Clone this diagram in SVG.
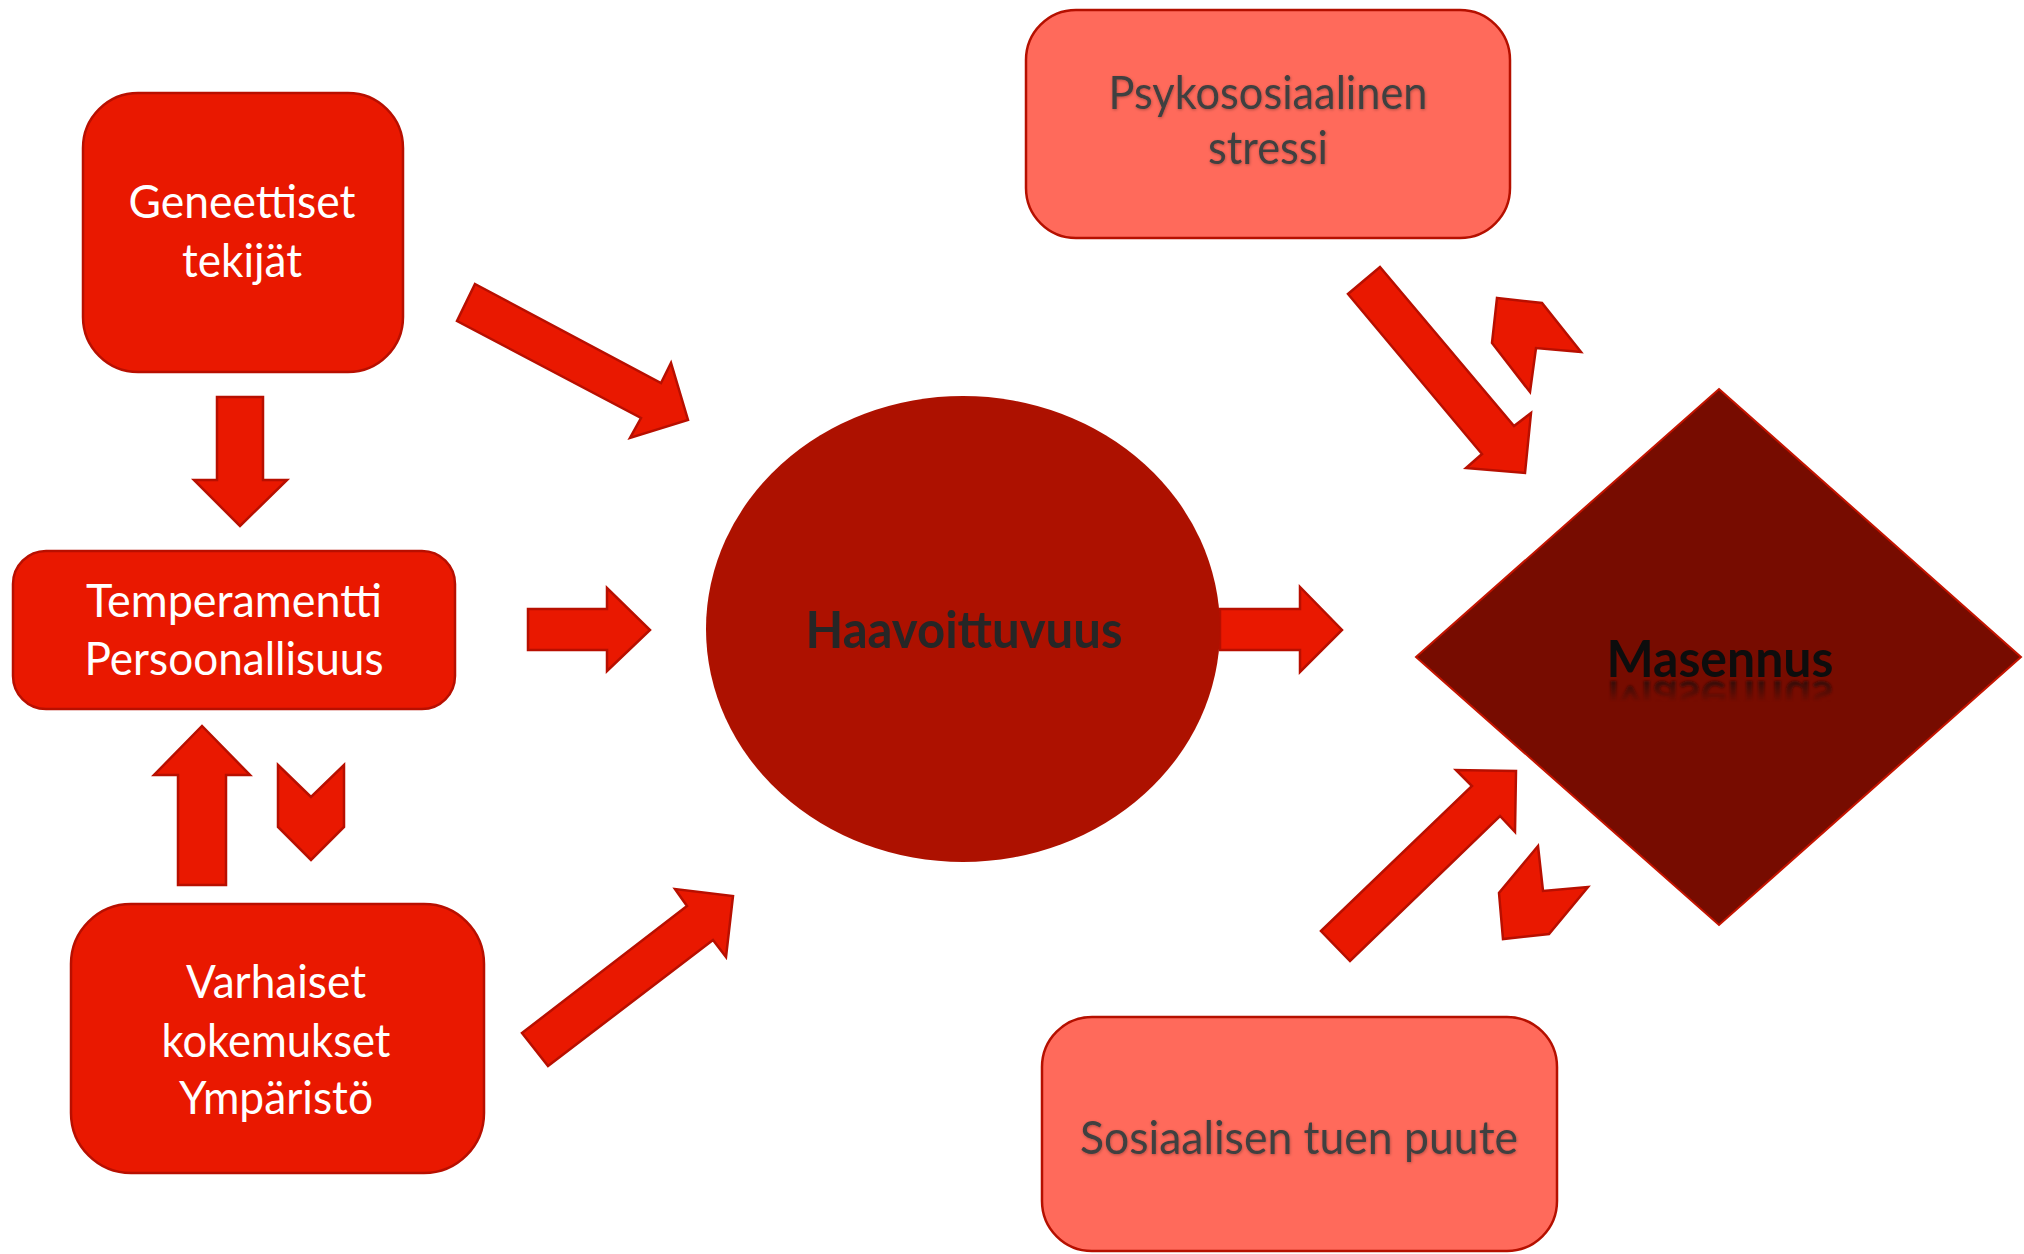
<svg xmlns="http://www.w3.org/2000/svg" xmlns:xlink="http://www.w3.org/1999/xlink" width="2024" height="1254" viewBox="0 0 2024 1254">
  <style>
    .red { fill: #E91800; stroke: #B80F00; stroke-width: 2.5; stroke-linejoin: miter; }
    .salmon { fill: #FF6A5B; stroke: #B51000; stroke-width: 2.5; }
    .wt { font-family: Lato, "Open Sans", "Liberation Sans", sans-serif; font-size: 47px; fill: #FFFFFF; text-anchor: middle; }
    .gt { font-family: Lato, "Open Sans", "Liberation Sans", sans-serif; font-size: 47px; fill: #404040; text-anchor: middle; filter: url(#soft); }
    .bt { font-family: Lato, "Open Sans", "Liberation Sans", sans-serif; font-weight: bold; font-size: 52px; text-anchor: middle; }
  </style>
  <defs>
    <filter id="soft" x="-10%" y="-30%" width="120%" height="160%">
      <feDropShadow dx="0.5" dy="1" stdDeviation="1.5" flood-color="#000000" flood-opacity="0.3"/>
    </filter>
    <filter id="blur1" x="-10%" y="-50%" width="120%" height="200%">
      <feGaussianBlur stdDeviation="1.2"/>
    </filter>
    <linearGradient id="fade" gradientUnits="userSpaceOnUse" x1="0" y1="679" x2="0" y2="702">
      <stop offset="0" stop-color="#fff" stop-opacity="0.7"/>
      <stop offset="1" stop-color="#fff" stop-opacity="0"/>
    </linearGradient>
    <mask id="refl" maskUnits="userSpaceOnUse" x="1500" y="679" width="450" height="30">
      <rect x="1500" y="679" width="450" height="30" fill="url(#fade)"/>
    </mask>
  </defs>
  <rect width="2024" height="1254" fill="#FFFFFF"/>

  <g id="connectors">
    <!-- Geneettiset -> Temperamentti -->
    <polygon class="red" points="217,397 263,397 263,480 287,480 240,526 194,480 217,480"/>
    <!-- Geneettiset -> Haavoittuvuus -->
    <polygon class="red" points="475,284 661,383 671,363 688,420 630,438 641,418 457,321"/>
    <!-- Temperamentti -> Haavoittuvuus -->
    <polygon class="red" points="528,609 607,609 607,588 650,630 607,671 607,650 528,650"/>
    <!-- Varhaiset -> Temperamentti -->
    <polygon class="red" points="178,885 226,885 226,775 250,775 202,726 154,775 178,775"/>
    <!-- Temperamentti -> Varhaiset (chevron) -->
    <polygon class="red" points="278,765 311,797 344,765 344,827 311,860 278,827"/>
    <!-- Varhaiset -> Haavoittuvuus -->
    <polygon class="red" points="522,1033 687,906 675,889 733,896 726,957 713,940 548,1066"/>
    <!-- Haavoittuvuus -> Masennus -->
    <polygon class="red" points="1220,609 1300,609 1300,587 1342,630 1300,672 1300,650 1220,650"/>
    <!-- Psykososiaalinen stressi -> Masennus -->
    <polygon class="red" points="1380,267 1514,426 1531,413 1525,473 1466,468 1482,454 1348,294"/>
    <!-- Masennus -> Psykososiaalinen stressi (chevron) -->
    <polygon class="red" points="1497,298 1542,303 1581,352 1536,348 1530,392 1492,343"/>
    <!-- Sosiaalisen tuen puute -> Masennus -->
    <polygon class="red" points="1321,931 1472,786 1456,770 1516,771 1515,832 1500,816 1350,961"/>
    <!-- Masennus -> Sosiaalisen tuen puute (chevron) -->
    <polygon class="red" points="1538,846 1543,891 1588,887 1549,934 1503,939 1499,893"/>
  </g>

  <g id="geneettiset">
    <rect class="red" x="83" y="93" width="320" height="279" rx="55" ry="55"/>
    <text class="wt" x="242" y="218" textLength="227" lengthAdjust="spacingAndGlyphs">Geneettiset</text>
    <text class="wt" x="242" y="277" textLength="120" lengthAdjust="spacingAndGlyphs">tekijät</text>
  </g>

  <g id="temperamentti">
    <rect class="red" x="13" y="551" width="442" height="158" rx="33" ry="33"/>
    <text class="wt" x="234" y="617" textLength="296" lengthAdjust="spacingAndGlyphs">Temperamentti</text>
    <text class="wt" x="234" y="675" textLength="299" lengthAdjust="spacingAndGlyphs">Persoonallisuus</text>
  </g>

  <g id="varhaiset">
    <rect class="red" x="71" y="904" width="413" height="269" rx="60" ry="60"/>
    <text class="wt" x="276" y="998" textLength="180" lengthAdjust="spacingAndGlyphs">Varhaiset</text>
    <text class="wt" x="276" y="1057" textLength="229" lengthAdjust="spacingAndGlyphs">kokemukset</text>
    <text class="wt" x="276" y="1114" textLength="194" lengthAdjust="spacingAndGlyphs">Ympäristö</text>
  </g>

  <g id="haavoittuvuus">
    <ellipse cx="963" cy="629" rx="257" ry="233" fill="#AD1100"/>
    <text class="bt" x="964" y="648" fill="#262626" textLength="317" lengthAdjust="spacingAndGlyphs">Haavoittuvuus</text>
  </g>

  <g id="masennus">
    <polygon points="1719,389 2021,657 1719,925 1416,657" fill="#770C00" stroke="#C41400" stroke-width="2"/>
    <text id="masText" class="bt" x="1720" y="677" fill="#0D0D0D" textLength="227" lengthAdjust="spacingAndGlyphs">Masennus</text>
    <g mask="url(#refl)">
      <use xlink:href="#masText" href="#masText" transform="translate(0,1358) scale(1,-1)" filter="url(#blur1)"/>
    </g>
  </g>

  <g id="psykososiaalinen">
    <rect class="salmon" x="1026" y="10" width="484" height="228" rx="50" ry="50"/>
    <text class="gt" x="1268" y="109" textLength="319" lengthAdjust="spacingAndGlyphs">Psykososiaalinen</text>
    <text class="gt" x="1268" y="164" textLength="120" lengthAdjust="spacingAndGlyphs">stressi</text>
  </g>

  <g id="sosiaalisen">
    <rect class="salmon" x="1042" y="1017" width="515" height="234" rx="50" ry="50"/>
    <text class="gt" x="1299" y="1154" textLength="438" lengthAdjust="spacingAndGlyphs">Sosiaalisen tuen puute</text>
  </g>
</svg>
